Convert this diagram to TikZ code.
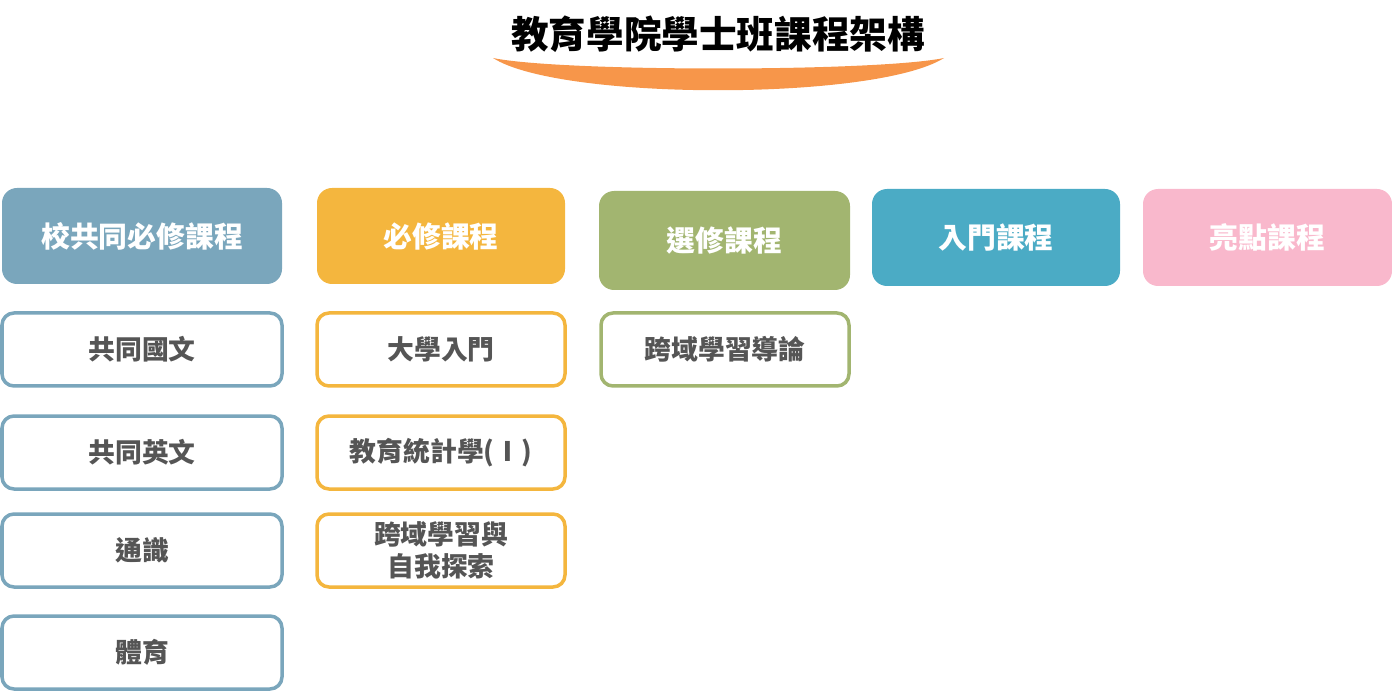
\documentclass[tikz,border=0pt]{standalone}
\usepackage{fontspec}
\setmainfont{Noto Sans CJK TC}
\definecolor{cblue}{HTML}{7AA6BC}
\definecolor{cyellow}{HTML}{F4B63E}
\definecolor{cgreen}{HTML}{A2B570}
\definecolor{cteal}{HTML}{4BABC5}
\definecolor{cpink}{HTML}{F9B8CC}
\definecolor{corange}{HTML}{F7964A}
\definecolor{ctext}{HTML}{555555}
\tikzset{
  head/.style={rounded corners=15pt, inner sep=0pt, text=white, font=\bfseries\fontsize{28.8}{33}\selectfont, minimum height=96pt},
  sub/.style={rounded corners=12pt, line width=3.5pt, fill=white, inner sep=0pt, text=ctext, font=\bfseries\fontsize{26.8}{32}\selectfont, align=center, minimum height=73pt},
}
\begin{document}
\begin{tikzpicture}[x=1pt,y=-1pt]
\useasboundingbox (0,0) rectangle (1392,692);
% title
\fill[corange] (493,58) .. controls (560,101) and (876,101) .. (944,58) .. controls (876,72) and (560,72) .. cycle;
\node[font=\bfseries\fontsize{37.6}{42}\selectfont, text=black] (title) at (718,34) {教育學院學士班課程架構};
% header boxes
\node[head, fill=cblue, minimum width=280pt] (h1) at (142,236) {校共同必修課程};
\node[head, fill=cyellow, minimum width=248pt] (h2) at (441,236) {必修課程};
\node[head, fill=cgreen, minimum width=251pt, minimum height=99pt] (h3) at (724.5,240.5) {選修課程};
\node[head, fill=cteal, minimum width=248pt, minimum height=97pt] (h4) at (996,237.5) {入門課程};
\node[head, fill=cpink, minimum width=249pt, minimum height=97pt] (h5) at (1267.5,237.5) {亮點課程};
% column 1
\node[sub, draw=cblue, minimum width=280pt] (a1) at (142,349.5) {共同國文};
\node[sub, draw=cblue, minimum width=280pt] (a2) at (142,452.5) {共同英文};
\node[sub, draw=cblue, minimum width=280pt] (a3) at (142,550.5) {通識};
\node[sub, draw=cblue, minimum width=280pt] (a4) at (142,652.5) {體育};
% column 2
\node[sub, draw=cyellow, minimum width=248pt] (b1) at (441,349.5) {大學入門};
\node[sub, draw=cyellow, minimum width=248pt] (b2) at (441,452.5) {教育統計學(Ⅰ)};
\node[sub, draw=cyellow, minimum width=248pt] (b3) at (441,550.5) {跨域學習與\\自我探索};
% column 3
\node[sub, draw=cgreen, minimum width=248pt] (c1) at (725,349.5) {跨域學習導論};
\end{tikzpicture}
\end{document}
